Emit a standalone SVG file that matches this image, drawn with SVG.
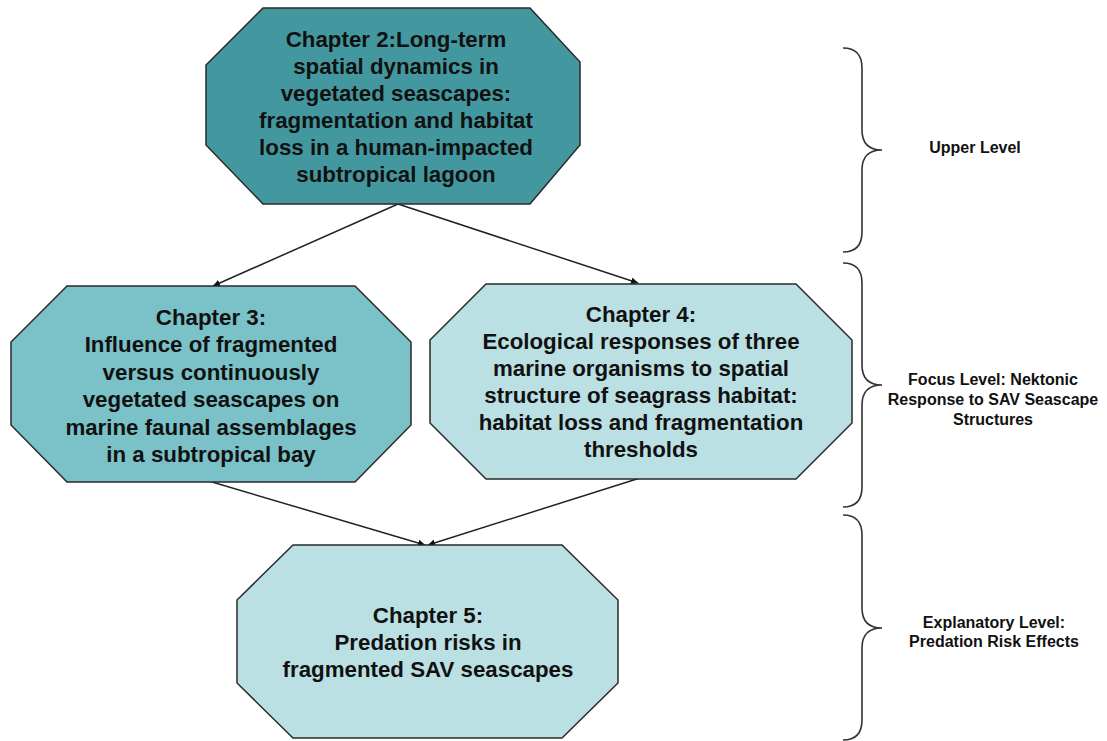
<svg xmlns="http://www.w3.org/2000/svg" width="1107" height="741" viewBox="0 0 1107 741">
<style>
.node{stroke:#2a2a2a;stroke-width:1.5}
.n2{fill:#43989F}
.n3{fill:#7AC2C7}
.n4{fill:#BAE0E3}
.t{font-family:"Liberation Sans",Arial,sans-serif;font-weight:bold;font-size:22.3px;fill:#111;text-anchor:middle}
.lbl{font-family:"Liberation Sans",Arial,sans-serif;font-weight:bold;font-size:16px;fill:#111;text-anchor:middle}
.edge{stroke:#222;stroke-width:1.5;fill:none;marker-end:url(#ah)}
.brace{stroke:#333;stroke-width:1.6;fill:none}
</style>
<defs>
<marker id="ah" viewBox="0 0 10 10" refX="10" refY="5" markerWidth="7" markerHeight="7" markerUnits="userSpaceOnUse" orient="auto">
<path d="M0,0 L10,5 L0,10 z" fill="#111"/>
</marker>
</defs>
<rect width="1107" height="741" fill="#fff"/>
<g id="connectors">
<line class="edge" x1="398" y1="204" x2="213" y2="286"/>
<line class="edge" x1="398" y1="204" x2="638" y2="283"/>
<line class="edge" x1="212" y1="482" x2="425" y2="545"/>
<line class="edge" x1="640" y1="478" x2="428" y2="545"/>
</g>
<g id="ch2">
<polygon class="node n2" points="263,8 530,8 580,62 580,145 530,204 263,204 206,145 206,65"/>
<text class="t" x="396" y="47">Chapter 2:Long-term</text>
<text class="t" x="396" y="74">spatial dynamics in</text>
<text class="t" x="396" y="101">vegetated seascapes:</text>
<text class="t" x="396" y="128">fragmentation and habitat</text>
<text class="t" x="396" y="155">loss in a human-impacted</text>
<text class="t" x="396" y="182">subtropical lagoon</text>
</g>
<g id="ch3">
<polygon class="node n3" points="67,286 355,286 411,342 411,425 355,482 67,482 11,425 11,342"/>
<text class="t" x="211" y="325">Chapter 3:</text>
<text class="t" x="211" y="352">Influence of fragmented</text>
<text class="t" x="211" y="380">versus continuously</text>
<text class="t" x="211" y="407">vegetated seascapes on</text>
<text class="t" x="211" y="435">marine faunal assemblages</text>
<text class="t" x="211" y="462">in a subtropical bay</text>
</g>
<g id="ch4">
<polygon class="node n4" points="486,284 796,284 852,340 852,423 796,479 486,479 430,423 430,340"/>
<text class="t" x="641" y="322">Chapter 4:</text>
<text class="t" x="641" y="349">Ecological responses of three</text>
<text class="t" x="641" y="376">marine organisms to spatial</text>
<text class="t" x="641" y="403">structure of seagrass habitat:</text>
<text class="t" x="641" y="430">habitat loss and fragmentation</text>
<text class="t" x="641" y="457">thresholds</text>
</g>
<g id="ch5">
<polygon class="node n4" points="293,545 562,545 618,600 618,683 562,738 293,738 237,683 237,600"/>
<text class="t" x="428" y="623">Chapter 5:</text>
<text class="t" x="428" y="650">Predation risks in</text>
<text class="t" x="428" y="677">fragmented SAV seascapes</text>
</g>
<g id="level-upper">
<path class="brace" d="M843,48 Q862,48 862,68 L862,130 Q862,150 882,150 Q862,150 862,170 L862,232 Q862,252 843,252"/>
<text class="lbl" x="975" y="153">Upper Level</text>
</g>
<g id="level-focus">
<path class="brace" d="M843,263 Q862,263 862,283 L862,365 Q862,385 882,385 Q862,385 862,405 L862,487 Q862,507 843,507"/>
<text class="lbl" x="993" y="385">Focus Level: Nektonic</text>
<text class="lbl" x="993" y="405">Response to SAV Seascape</text>
<text class="lbl" x="993" y="425">Structures</text>
</g>
<g id="level-explanatory">
<path class="brace" d="M843,515 Q862,515 862,535 L862,608 Q862,628 882,628 Q862,628 862,648 L862,720 Q862,740 843,740"/>
<text class="lbl" x="994" y="628">Explanatory Level:</text>
<text class="lbl" x="994" y="647">Predation Risk Effects</text>
</g>
</svg>
